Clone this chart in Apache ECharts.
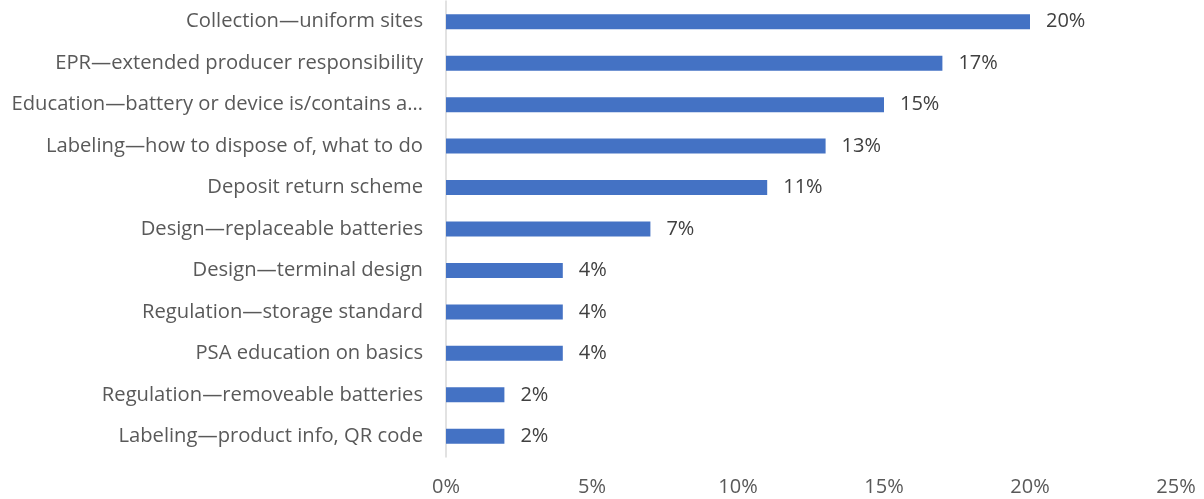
<!DOCTYPE html>
<html>
<head>
<meta charset="utf-8">
<script src="https://cdn.jsdelivr.net/npm/echarts@6/dist/echarts.min.js"></script>
<style>html,body{margin:0;padding:0;background:#fff}#c{width:1204px;height:499px}</style>
</head>
<body>
<div id="c"></div>
<script>
const categories = [
  "Collection\u2014uniform sites",
  "EPR\u2014extended producer responsibility",
  "Education\u2014battery or device is/contains a\u2026",
  "Labeling\u2014how to dispose of, what to do",
  "Deposit return scheme",
  "Design\u2014replaceable batteries",
  "Design\u2014terminal design",
  "Regulation\u2014storage standard",
  "PSA education on basics",
  "Regulation\u2014removeable batteries",
  "Labeling\u2014product info, QR code"
];
const values = [20, 17, 15, 13, 11, 7, 4, 4, 4, 2, 2];
const xTicks = [0, 5, 10, 15, 20, 25];

const FONT = '"Open Sans"';
const chart = echarts.init(document.getElementById('c'), null, {renderer: 'canvas'});
chart.setOption({
  animation: false,
  backgroundColor: '#ffffff',
  grid: {left: 446, right: 28, top: 1, bottom: 42, containLabel: false},
  xAxis: {
    type: 'value', min: xTicks[0], max: xTicks[xTicks.length - 1], interval: 5,
    axisLine: {show: false}, axisTick: {show: false}, splitLine: {show: false},
    axisLabel: {formatter: v => v + '%', color: '#595959', fontFamily: FONT, fontSize: 20, margin: 20}
  },
  yAxis: {
    type: 'category', data: categories, inverse: true,
    axisLine: {show: true, lineStyle: {color: '#d9d9d9', width: 1.5}},
    axisTick: {show: false},
    axisLabel: {color: '#595959', fontFamily: FONT, fontSize: 20.2, margin: 23}
  },
  series: [{
    type: 'bar', data: values, barWidth: 15,
    itemStyle: {color: '#4472C4'},
    label: {show: true, position: 'right', distance: 16, formatter: p => p.value + '%',
      color: '#404040', fontFamily: FONT, fontSize: 20}
  }]
});
</script>
</body>
</html>
